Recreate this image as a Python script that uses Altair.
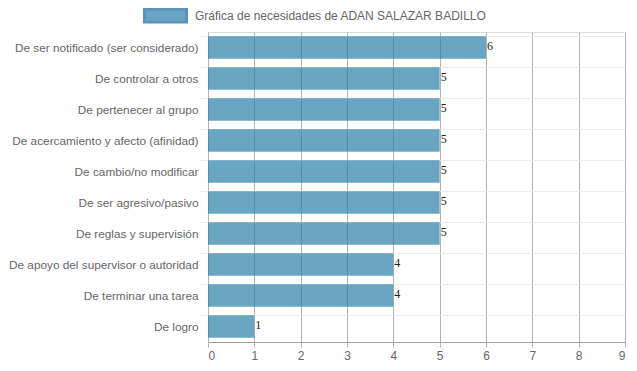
import altair as alt
import pandas as pd

categories = [
    "De ser notificado (ser considerado)",
    "De controlar a otros",
    "De pertenecer al grupo",
    "De acercamiento y afecto (afinidad)",
    "De cambio/no modificar",
    "De ser agresivo/pasivo",
    "De reglas y supervisión",
    "De apoyo del supervisor o autoridad",
    "De terminar una tarea",
    "De logro",
]
values = [6, 5, 5, 5, 5, 5, 5, 4, 4, 1]
series_name = "Gráfica de necesidades de ADAN SALAZAR BADILLO"

df = pd.DataFrame({"cat": categories, "val": values, "serie": series_name})

y_enc = alt.Y(
    "cat:N",
    sort=categories,
    title=None,
    scale=alt.Scale(paddingInner=0.27, paddingOuter=0.135),
    axis=alt.Axis(
        bandPosition=0,
        grid=True,
        gridColor="#ebebeb",
        gridWidth=1,
        tickColor="#ebebeb",
        tickSize=9,
        domain=False,
        labelFont="Liberation Sans",
        labelFontSize=11.8,
        labelColor="#666666",
        labelPadding=1,
        labelLimit=300,
    ),
)
x_enc = alt.X(
    "val:Q",
    title=None,
    scale=alt.Scale(domain=[0, 9], nice=False),
    axis=alt.Axis(
        values=list(range(10)),
        format="d",
        grid=True,
        gridColor="#b3b3b3",
        domainColor="#a0a0a0",
        tickColor="#b3b3b3",
        tickSize=5,
        labelFont="Liberation Sans",
        labelFontSize=12,
        labelColor="#666666",
        labelPadding=3,
    ),
)

bars = alt.Chart(df).mark_bar(opacity=0.7).encode(
    x=x_enc,
    y=y_enc,
    color=alt.Color(
        "serie:N",
        scale=alt.Scale(range=["#2a80ab"]),
        legend=alt.Legend(
            title=None,
            orient="none",
            legendX=-65,
            legendY=-39,
            padding=0,
            symbolType="M-1,-0.31H1V0.31H-1Z",
            symbolSize=1764,
            symbolStrokeColor="#1268a0",
            symbolStrokeWidth=3,
            symbolOpacity=0.7,
            labelFont="Liberation Sans",
            labelFontSize=12,
            labelColor="#666666",
            labelOffset=7,
            labelLimit=400,
        ),
    ),
)

labels = alt.Chart(df).mark_text(
    align="left", baseline="middle", dx=1, dy=-2,
    font="Liberation Serif", fontSize=12, color="#222222",
).encode(
    x=alt.X("val:Q"),
    y=alt.Y("cat:N", sort=categories),
    text=alt.Text("val:Q"),
)

chart = alt.layer(bars, labels).properties(
    width=417,
    height=310,
    autosize=alt.AutoSizeParams(type="none"),
    padding={"left": 200, "top": 24, "right": 4, "bottom": 20},
).configure_view(stroke=None).configure(background="white")

chart.save("out.html", embed_options={"renderer": "svg", "actions": False})
